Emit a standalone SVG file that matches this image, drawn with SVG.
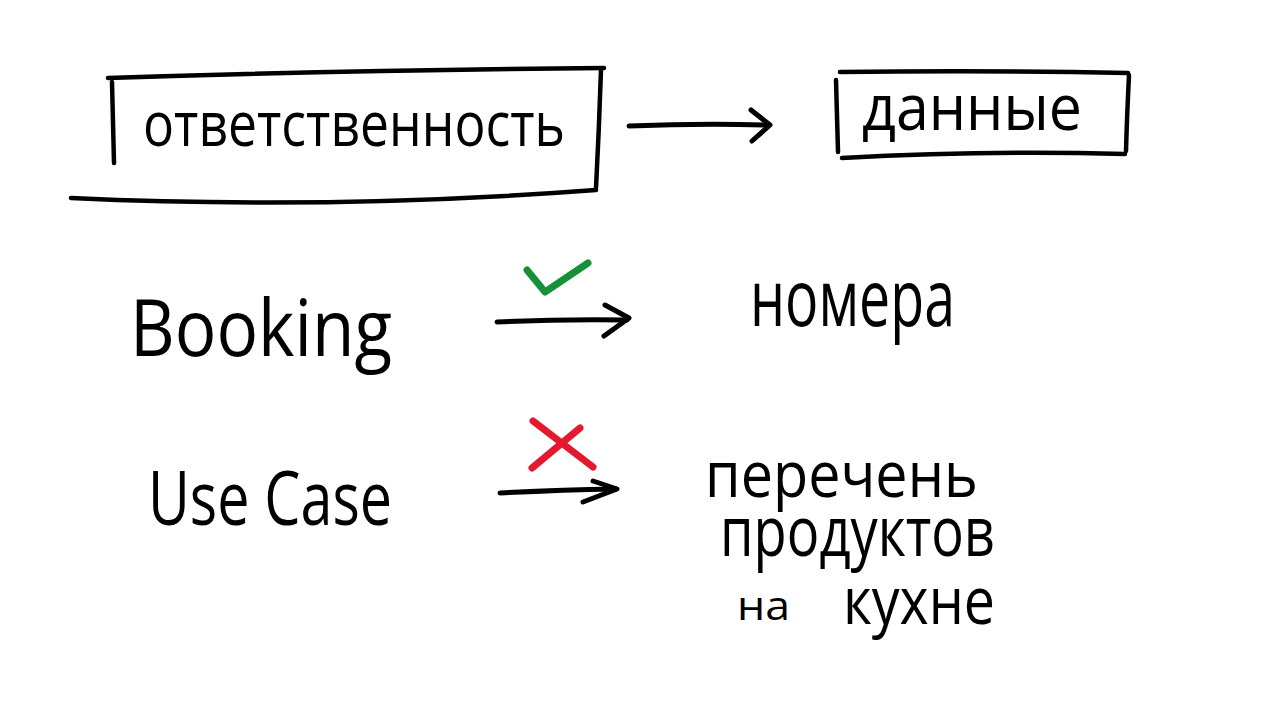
<svg xmlns="http://www.w3.org/2000/svg" width="1280" height="720" viewBox="0 0 1280 720">
<style>
.ln{fill:none;stroke:#000;stroke-width:4.5;stroke-linecap:round;stroke-linejoin:round}
.ar{fill:none;stroke:#000;stroke-width:5;stroke-linecap:round;stroke-linejoin:round}
.t{font-family:"Open Sans","Liberation Sans",sans-serif;fill:#000}
</style>
<rect width="1280" height="720" fill="#fff"/>
<g id="node-otvetstvennost">
<path class="ln" d="M108,78 Q350,70 604,68"/>
<path class="ln" d="M112,82 L114,163"/>
<path class="ln" d="M601,70 Q599,130 596,188"/>
<path class="ln" d="M71,198 Q330,210 596,190"/>
<text class="t" x="143" y="146" font-size="62" textLength="422" lengthAdjust="spacingAndGlyphs">ответственность</text>
</g>
<g id="node-dannye">
<path class="ln" d="M840,72 Q985,70 1128,73"/>
<path class="ln" d="M836,80 L838,152"/>
<path class="ln" d="M1129,75 Q1127,115 1126,151"/>
<path class="ln" d="M842,158 Q985,150 1125,154"/>
<text class="t" x="862" y="130" font-size="64" textLength="220" lengthAdjust="spacingAndGlyphs">данные</text>
</g>
<g id="node-booking">
<text class="t" x="130" y="356" font-size="78" textLength="262" lengthAdjust="spacingAndGlyphs">Booking</text>
</g>
<g id="node-nomera">
<text class="t" x="750" y="326" font-size="78" textLength="205" lengthAdjust="spacingAndGlyphs">номера</text>
</g>
<g id="node-usecase">
<text class="t" x="148" y="525" font-size="75" textLength="244" lengthAdjust="spacingAndGlyphs">Use Case</text>
</g>
<g id="node-perechen">
<text class="t"><tspan x="705" y="497" font-size="64" textLength="273" lengthAdjust="spacingAndGlyphs">перечень</tspan><tspan x="720" y="556" font-size="70" textLength="275" lengthAdjust="spacingAndGlyphs">продуктов</tspan><tspan x="737" y="620" font-size="40" textLength="53" lengthAdjust="spacingAndGlyphs">на</tspan><tspan x="843" y="624" font-size="66" textLength="152" lengthAdjust="spacingAndGlyphs">кухне</tspan></text>
</g>
<g id="connectors">
<path class="ar" d="M629,126 Q700,123 768,125"/>
<path class="ar" d="M751,110 L770,125 L752,141"/>
<path class="ar" d="M497,322 Q560,319 627,320"/>
<path class="ar" d="M605,305 L629,318 L604,336"/>
<path class="ar" d="M500,493 Q560,490 616,489"/>
<path class="ar" d="M593,481 L617,489 L583,502"/>
<path fill="none" stroke="#17903a" stroke-width="7" stroke-linecap="round" stroke-linejoin="round" d="M527,270 L545,292 L588,263"/>
<path fill="none" stroke="#e3192d" stroke-width="7" stroke-linecap="round" d="M533,421 L593,467 M580,428 L532,468"/>
</g>
</svg>
